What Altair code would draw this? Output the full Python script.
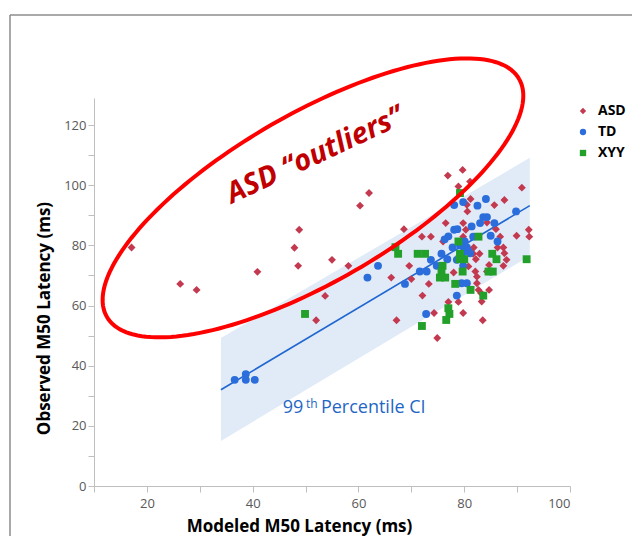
import altair as alt
import pandas as pd
import numpy as np

# ---------------- data ----------------
groups = ["ASD", "TD", "XYY"]
colors = ["#c3394f", "#2b6ddb", "#22a02a"]
shapes = ["diamond", "circle", "square"]

asd_x = [17.1, 26.3, 29.4, 40.9, 48.8, 47.9, 48.6, 55.0, 53.7, 52.0, 60.3, 62.0, 58.1,
         68.6, 72.0, 73.7, 69.6, 66.2, 73.3, 72.1, 67.2, 74.3, 74.9, 77.0, 78.9, 79.8,
         83.5, 84.7, 83.3, 76.9, 79.7, 78.9, 81.1, 81.2, 80.5, 80.6, 90.9, 87.6, 85.7,
         76.5, 79.8, 80.3, 79.8, 76.0, 81.8, 81.7, 82.9, 82.2, 84.3, 86.0, 86.8, 86.3,
         87.4, 87.6, 87.4, 88.0, 84.7, 84.3, 89.9, 92.2, 92.3, 82.1, 82.4, 82.4, 82.7,
         83.2, 70.0, 78.0, 80.8]
asd_y = [79.3, 67.2, 65.2, 71.2, 85.2, 79.2, 73.2, 75.2, 63.2, 55.1, 93.2, 97.4, 73.2,
         85.4, 82.9, 82.9, 73.2, 69.3, 67.2, 63.3, 55.1, 57.5, 49.2, 61.2, 61.2, 57.5,
         55.1, 65.2, 61.3, 103.2, 105.1, 99.6, 101.2, 95.4, 93.5, 91.3, 99.2, 95.1, 93.4,
         87.4, 87.4, 85.2, 82.9, 81.3, 79.3, 77.2, 77.2, 75.4, 87.6, 85.4, 82.9, 79.3,
         79.3, 77.4, 73.2, 75.2, 73.5, 71.3, 83.2, 85.2, 82.9, 71.3, 69.6, 67.4, 65.2,
         64.1, 68.8, 71.0, 73.0]

td_x = [36.6, 38.7, 38.7, 40.4, 61.7, 63.7, 68.8, 71.6, 72.9, 73.7, 74.8, 75.7, 76.8,
        77.8, 78.6, 78.1, 78.7, 78.1, 79.8, 82.5, 84.1, 81.4, 83.0, 83.6, 84.3, 85.7,
        85.0, 86.3, 81.7, 80.1, 80.5, 79.7, 81.1, 79.8, 79.5, 80.5, 78.6, 72.8, 89.8,
        80.0, 80.8, 79.2, 77.0, 76.3]
td_y = [35.3, 37.2, 35.3, 35.3, 69.3, 73.2, 67.2, 71.3, 71.3, 75.2, 73.2, 77.2, 75.4,
        79.3, 75.2, 85.2, 85.4, 93.4, 94.4, 93.2, 95.4, 86.3, 87.4, 89.4, 89.4, 87.4,
        83.2, 81.3, 82.9, 81.3, 79.3, 77.4, 77.4, 73.2, 67.4, 67.4, 63.3, 57.2, 91.3,
        78.5, 78.0, 80.0, 83.0, 82.0]

xyy_x = [49.9, 79.2, 67.0, 67.5, 71.2, 72.6, 75.9, 75.7, 75.4, 76.4, 78.3, 79.7, 78.9,
         79.2, 80.0, 79.1, 82.7, 85.3, 86.1, 84.6, 85.4, 81.2, 83.6, 77.0, 77.2, 76.6,
         72.0, 91.8]
xyy_y = [57.2, 97.4, 79.4, 77.2, 77.2, 77.2, 73.2, 71.3, 69.3, 69.3, 67.2, 71.3, 81.3,
         77.2, 75.4, 75.4, 82.9, 77.2, 75.4, 71.3, 71.3, 65.2, 63.3, 59.1, 57.2, 55.2,
         53.2, 75.4]

fit_x = [34.0, 92.4]
fit_y = [32.0, 93.2]
band_x = [34.0, 92.4]
band_lo = [15.0, 76.5]
band_hi = [49.2, 109.1]

x_ticks = list(range(10, 101, 10))
y_ticks = list(range(0, 121, 10))

# ellipse annotation (centre in data units, semi-axes in pixels, tilt in degrees)
ell_center = (51.4, 95.8)
ell_axes_px = (238.0, 84.0)
ell_tilt = 30.0

# ---------------- layout ----------------
W, H = 476, 388
XDOM, YDOM = [10, 100], [0, 129]
px_x = W / (XDOM[1] - XDOM[0])
px_y = H / (YDOM[1] - YDOM[0])
FONT = "Open Sans"

pts = pd.DataFrame({
    "x": asd_x + td_x + xyy_x,
    "y": asd_y + td_y + xyy_y,
    "g": ["ASD"] * len(asd_x) + ["TD"] * len(td_x) + ["XYY"] * len(xyy_x),
})

t = np.linspace(0, 2 * np.pi, 181)
th = np.radians(ell_tilt)
a, b = ell_axes_px
ell = pd.DataFrame({
    "x": ell_center[0] + (a * np.cos(t) * np.cos(th) - b * np.sin(t) * np.sin(th)) / px_x,
    "y": ell_center[1] + (a * np.cos(t) * np.sin(th) + b * np.sin(t) * np.cos(th)) / px_y,
    "o": np.arange(len(t)),
})

xs = alt.Scale(domain=XDOM, nice=False, zero=False)
ys = alt.Scale(domain=YDOM, nice=False, zero=False)
xa = alt.Axis(values=x_ticks, labelExpr="datum.value % 20 == 0 ? datum.label : ''",
              grid=False, title="Modeled M50 Latency (ms)", titleX=205, titleY=40,
              titleBaseline="middle", labelPadding=5)
ya = alt.Axis(values=y_ticks, labelExpr="datum.value % 20 == 0 ? datum.label : ''",
              grid=False, title="Observed M50 Latency (ms)", titleX=-50, titleY=220,
              titleBaseline="middle", titleAngle=270)
X = alt.X("x:Q", scale=xs, axis=xa)
Y = alt.Y("y:Q", scale=ys, axis=ya)

band = alt.Chart(pd.DataFrame({"x": band_x, "lo": band_lo, "hi": band_hi})).mark_area(
    color="#e1ebf8", opacity=1).encode(x=X, y=alt.Y("lo:Q", scale=ys, axis=ya), y2="hi:Q")

fit = alt.Chart(pd.DataFrame({"x": fit_x, "y": fit_y})).mark_line(
    color="#1f66d1", strokeWidth=1.6).encode(x=X, y=Y)

points = alt.Chart(pts).mark_point(filled=True, opacity=1, size=62).encode(
    x=X, y=Y,
    color=alt.Color("g:N", scale=alt.Scale(domain=groups, range=colors),
                    legend=alt.Legend(title=None, orient="none", legendX=482, legendY=6,
                                      labelFont=FONT, labelFontSize=14, labelFontWeight="bold",
                                      labelColor="#000", symbolSize=40, rowPadding=7,
                                      labelOffset=8)),
    shape=alt.Shape("g:N", scale=alt.Scale(domain=groups, range=shapes)),
)

ellipse = alt.Chart(ell).mark_line(color="#ff0000", strokeWidth=4).encode(
    x=X, y=Y, order="o:Q")

outl = alt.Chart(pd.DataFrame({"x": [51.8], "y": [110.0], "t": ["ASD \u201coutliers\u201d"]})).mark_text(
    font=FONT, fontSize=29, fontWeight="bold", fontStyle="italic", color="#c00000",
    angle=335, align="center", baseline="middle").encode(x=X, y=Y, text="t:N")

ci_main = alt.Chart(pd.DataFrame({"x": [45.7, 52.9], "y": [24.4, 24.4], "t": ["99", "Percentile CI"]})).mark_text(
    font=FONT, fontSize=18, color="#1f66c5", align="left", baseline="alphabetic").encode(x=X, y=Y, text="t:N")
ci_sup = alt.Chart(pd.DataFrame({"x": [50.1], "y": [26.0], "t": ["th"]})).mark_text(
    font=FONT, fontSize=12, color="#1f66c5", align="left", baseline="alphabetic").encode(x=X, y=Y, text="t:N")

frame_v = alt.Chart(pd.DataFrame({"a": [0]})).mark_rule(color="#8c8c8c", strokeWidth=1.5).encode(
    x=alt.value(-84), y=alt.value(-83), y2=alt.value(460))
frame_h = alt.Chart(pd.DataFrame({"a": [0]})).mark_rule(color="#8c8c8c", strokeWidth=1.5).encode(
    x=alt.value(-84), x2=alt.value(560), y=alt.value(-83))

chart = alt.layer(frame_v, frame_h, band, fit, points, ellipse, outl, ci_main, ci_sup).properties(
    width=W, height=H,
    autosize=alt.AutoSizeParams(type="none"),
    padding={"left": 86, "top": 90, "right": 62, "bottom": 50},
).configure_view(stroke=None).configure_axis(
    domainColor="#bfbfbf", tickColor="#bfbfbf", tickSize=6,
    labelColor="#595959", labelFont=FONT, labelFontSize=13,
    titleFont=FONT, titleFontSize=17, titleFontWeight="bold", titleColor="#000",
)

chart.save("out.html", embed_options={"renderer": "svg", "actions": False})
